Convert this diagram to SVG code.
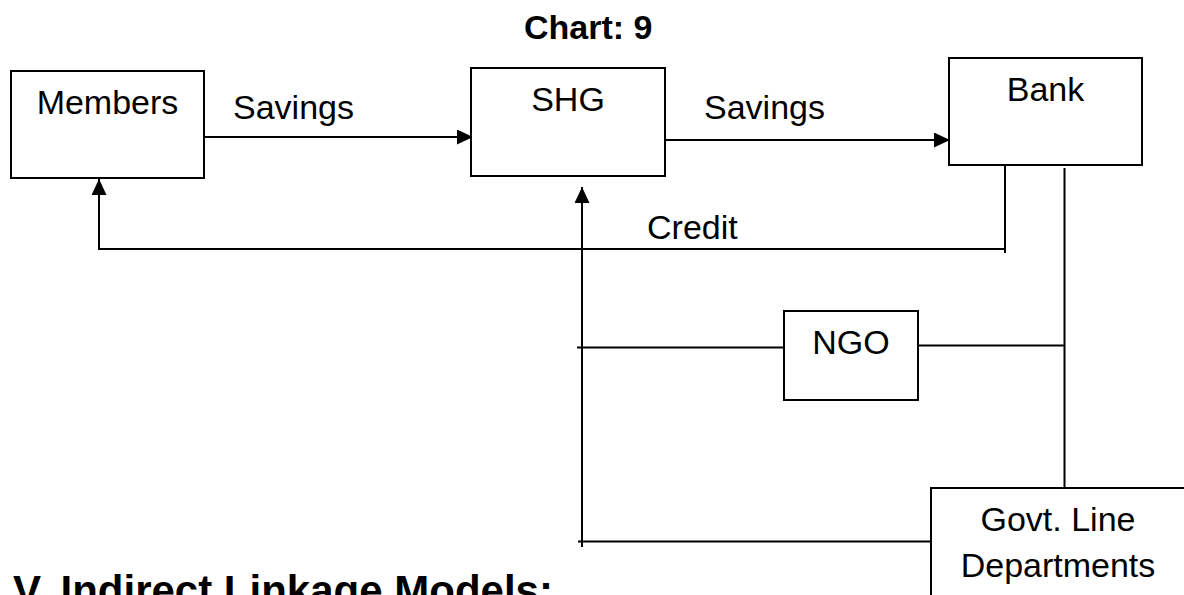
<svg xmlns="http://www.w3.org/2000/svg" width="1184" height="595" viewBox="0 0 1184 595">
  <style>
    .box { fill: #ffffff; stroke: #000000; stroke-width: 2; }
    .lbl { font-family: "Liberation Sans", Arial, sans-serif; font-size: 34px; fill: #000000; }
    .mid { text-anchor: middle; }
    .bold { font-weight: bold; }
    .ln { fill: none; stroke: #000000; stroke-width: 2; }
  </style>
  <defs>
    <marker id="arr" markerUnits="userSpaceOnUse" markerWidth="16" markerHeight="15" refX="16" refY="7.5" orient="auto">
      <path d="M0,0 L16,7.5 L0,15 Z" fill="#000000"/>
    </marker>
  </defs>
  <rect width="1184" height="595" fill="#ffffff"/>

  <text class="lbl bold" x="524" y="39">Chart: 9</text>

  <g id="connectors">
    <path class="ln" d="M205,137 H473" marker-end="url(#arr)"/>
    <path class="ln" d="M665,140 H950" marker-end="url(#arr)"/>
    <path class="ln" d="M1005,165 V253"/>
    <path class="ln" d="M1005,249 H99 V179" marker-end="url(#arr)"/>
    <path class="ln" d="M1064.5,168 V492"/>
    <path class="ln" d="M917,345.5 H1064.5"/>
    <path class="ln" d="M577,347.5 H784"/>
    <path class="ln" d="M582,547 V187" marker-end="url(#arr)"/>
    <path class="ln" d="M578,541.5 H931"/>
  </g>

  <g id="label-savings-1"><text class="lbl" x="233" y="119">Savings</text></g>
  <g id="label-savings-2"><text class="lbl" x="704" y="119">Savings</text></g>
  <g id="label-credit"><text class="lbl" x="647" y="239">Credit</text></g>

  <g id="node-members">
    <rect class="box" x="11" y="71" width="193" height="107"/>
    <text class="lbl mid" x="107.5" y="114">Members</text>
  </g>
  <g id="node-shg">
    <rect class="box" x="471" y="68" width="194" height="108"/>
    <text class="lbl mid" x="568" y="111">SHG</text>
  </g>
  <g id="node-bank">
    <rect class="box" x="949" y="58" width="193" height="107"/>
    <text class="lbl mid" x="1045.5" y="101">Bank</text>
  </g>
  <g id="node-ngo">
    <rect class="box" x="784" y="311" width="134" height="89"/>
    <text class="lbl mid" x="851" y="354">NGO</text>
  </g>
  <g id="node-govt">
    <rect class="box" x="931" y="488" width="260" height="130"/>
    <text class="lbl mid" x="1058" y="531">Govt. Line</text>
    <text class="lbl mid" x="1058" y="577">Departments</text>
  </g>

  <text class="lbl bold" x="13" y="605" style="font-size:42px">V. Indirect Linkage Models:</text>
</svg>
